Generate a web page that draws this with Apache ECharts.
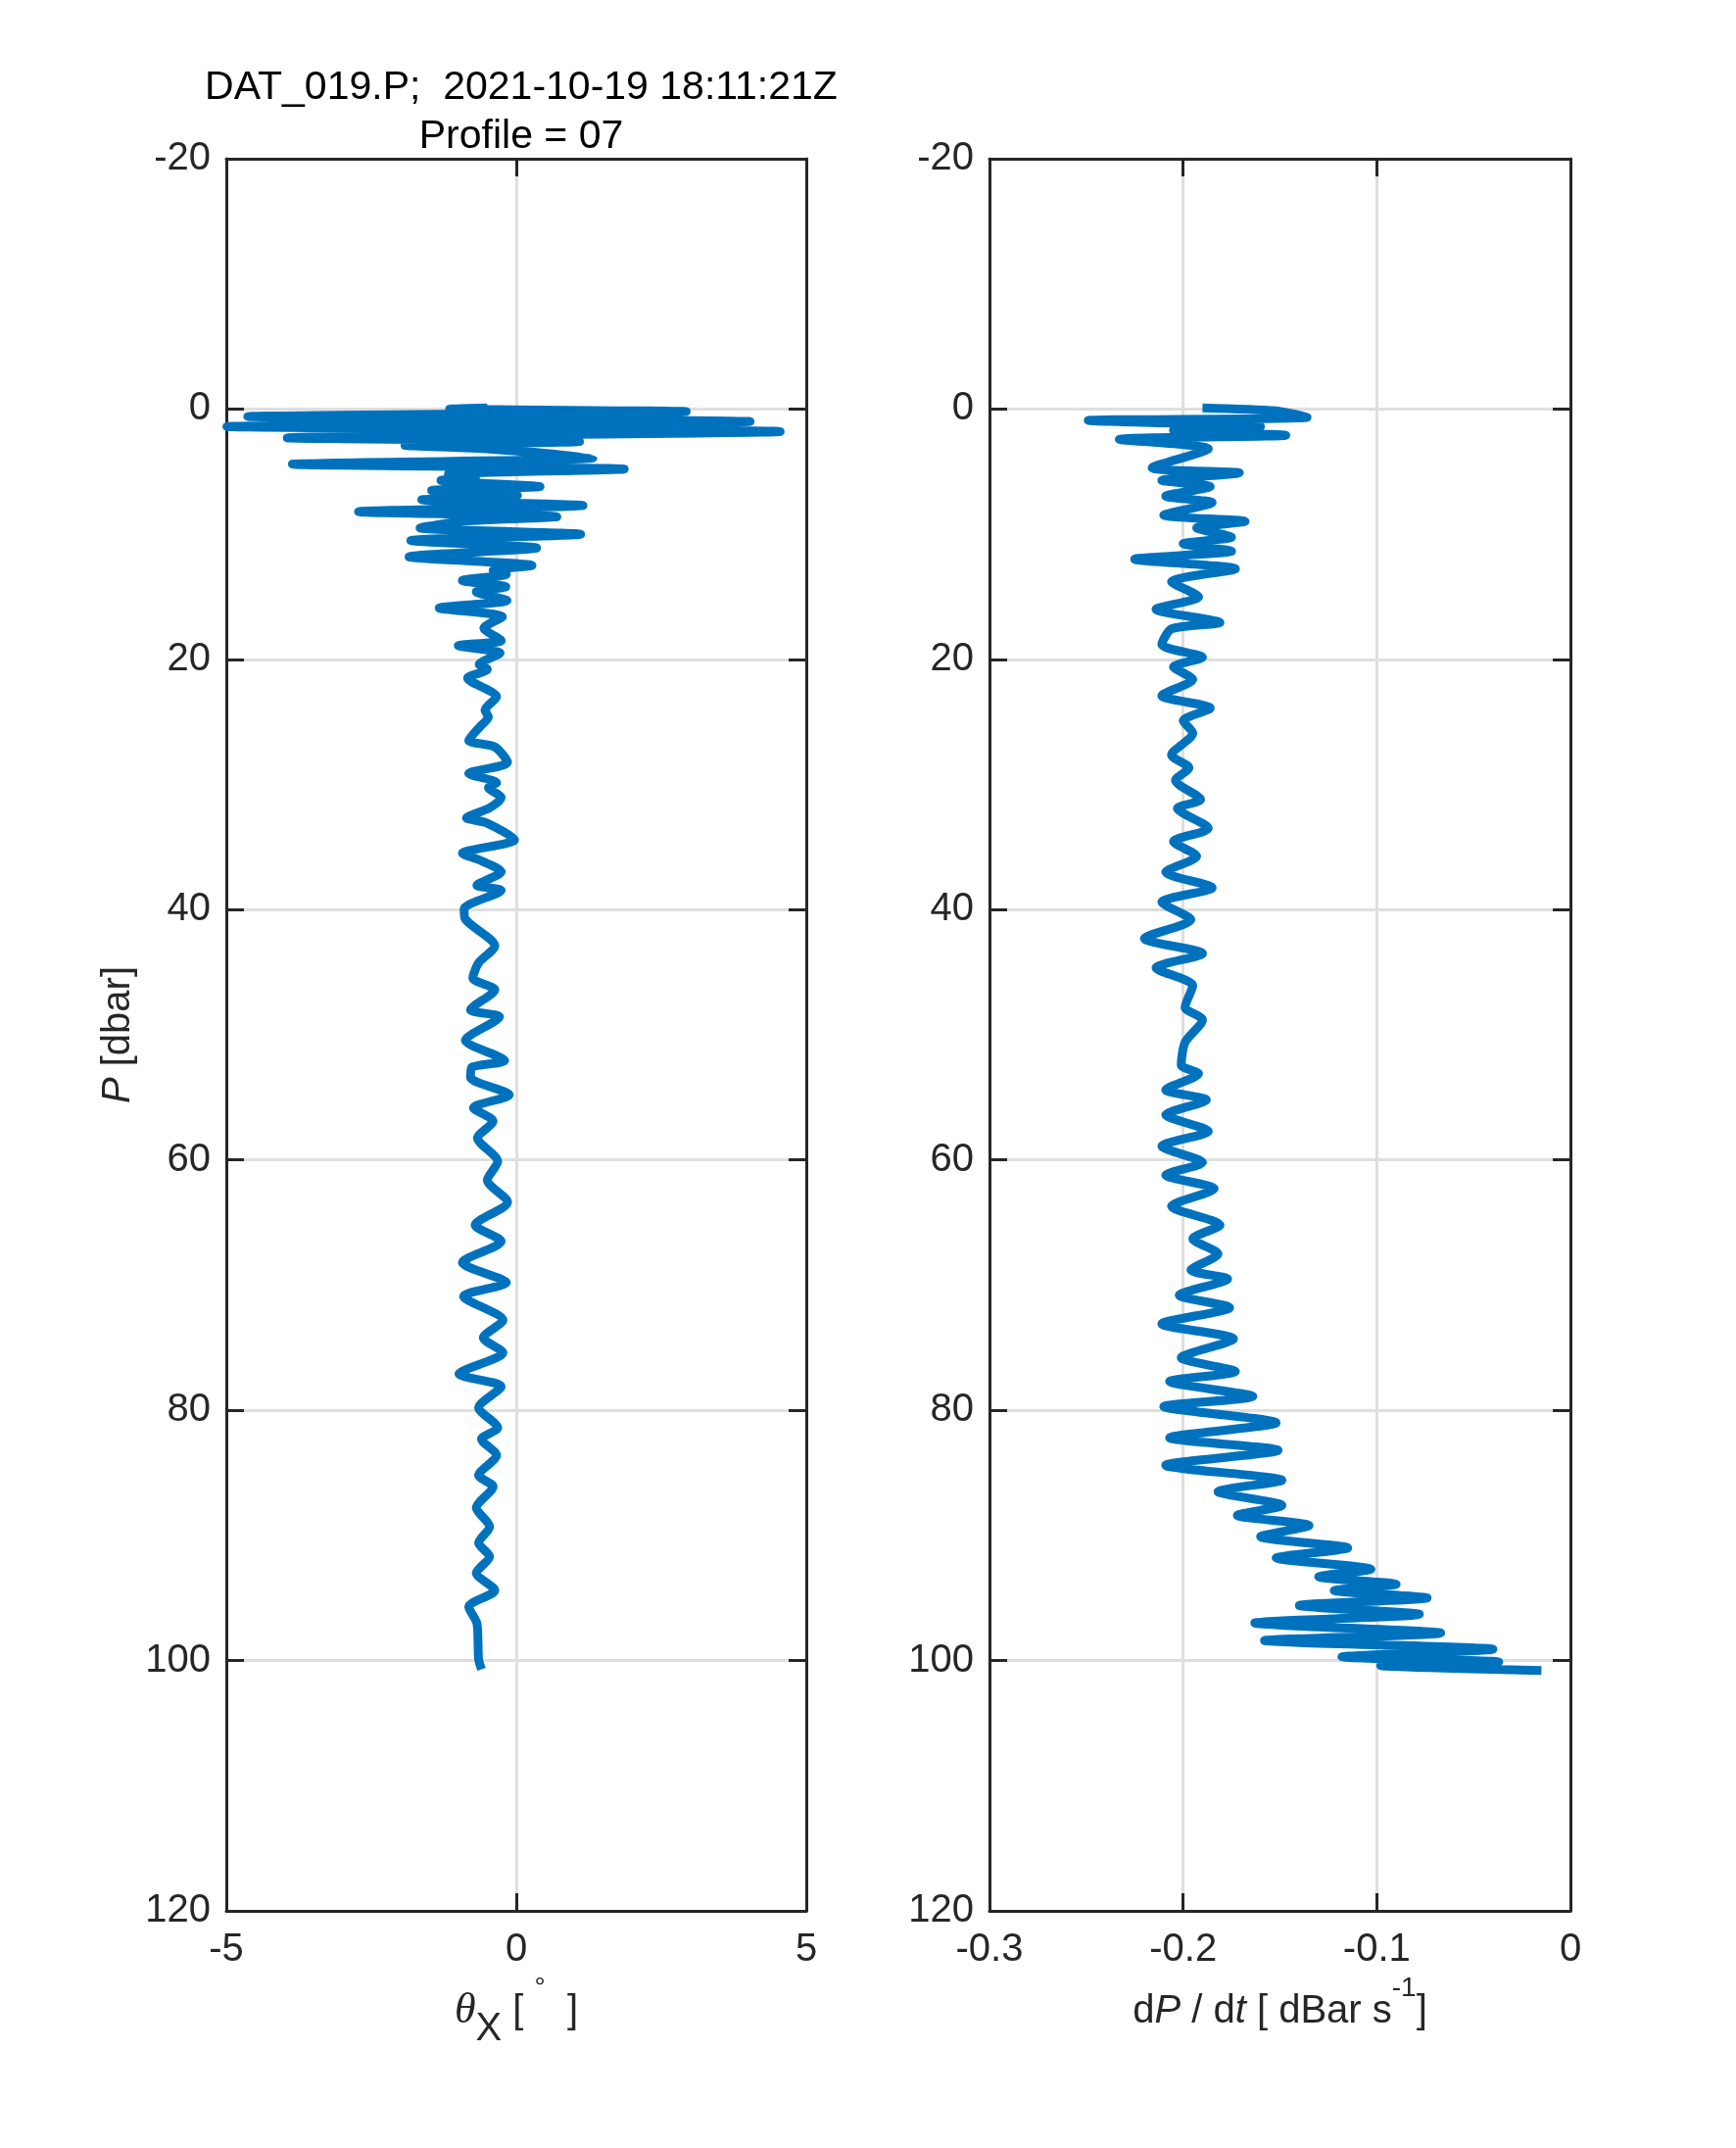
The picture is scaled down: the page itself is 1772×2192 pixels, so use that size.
<!DOCTYPE html>
<html>
<head>
<meta charset="utf-8">
<script src="https://cdn.jsdelivr.net/npm/echarts@6/dist/echarts.min.js"></script>
<style>
html,body{margin:0;padding:0;background:#fff;}
#c{width:1772px;height:2192px;}
</style>
</head>
<body>
<div id="c"></div>
<script>
// ---- data ----
const P_TICKS = [-20, 0, 20, 40, 60, 80, 100, 120];
const THETA_TICKS = [-5, 0, 5];
const DPDT_TICKS = [-0.3, -0.2, -0.1, 0];

// left panel: pitch angle theta_x [deg] vs pressure P [dbar]
const thetaP = [-0.1,0.0,0.05,0.2,0.6,1.0,1.4,1.8,2.3,2.6,2.9,3.2,3.9,4.4,4.8,5.2,5.4,5.7,6.2,6.5,6.9,7.25,7.7,8.2,8.6,8.95,9.5,10.0,10.5,11.1,11.8,12.5,12.9,13.2,13.7,14.2,14.6,15.3,15.9,16.6,17.5,18.5,18.9,19.5,20.4,20.8,21.5,22.98,24.06,24.6,25.4,26.48,27.0,28.23,29.12,29.85,30.25,31.06,31.87,32.67,33.08,34.42,35.5,36.04,36.98,38.06,38.46,39.94,40.75,42.9,44.25,45.46,46.4,48.0,48.56,50.44,52.06,52.6,53.4,54.8,55.83,56.9,58.25,60.13,61.6,63.37,65.2,66.5,68.2,69.8,70.9,72.8,74.2,75.4,77.1,78.1,79.8,81.4,82.3,83.6,85.2,86.1,87.8,89.3,90.6,91.7,93.0,94.4,95.7,97.0,98.5,99.9,100.7];
const thetaX = [-0.5,-1.15,-0.3,2.93,-4.63,4.03,-4.99,4.55,-3.95,1.09,-1.92,-0.46,1.32,-3.86,1.86,-1.17,-0.7,-1.30,0.41,-1.46,0.02,-1.63,1.15,-2.72,0.70,-0.88,-1.66,1.11,-1.82,0.35,-1.85,0.27,-0.40,-0.17,-0.93,-0.18,-0.69,-0.16,-1.33,-0.24,-0.56,-0.26,-1.0,-0.28,-0.64,-0.5,-0.84,-0.34,-0.54,-0.48,-0.63,-0.82,-0.37,-0.15,-0.82,-0.34,-0.48,-0.26,-0.46,-0.86,-0.51,-0.03,-0.93,-0.63,-0.26,-0.68,-0.26,-0.90,-0.88,-0.37,-0.65,-0.75,-0.37,-0.79,-0.29,-0.88,-0.20,-0.77,-0.79,-0.12,-0.74,-0.40,-0.67,-0.32,-0.50,-0.15,-0.71,-0.26,-0.93,-0.17,-0.91,-0.23,-0.57,-0.23,-0.99,-0.26,-0.65,-0.32,-0.60,-0.34,-0.65,-0.40,-0.69,-0.46,-0.65,-0.46,-0.69,-0.37,-0.82,-0.68,-0.66,-0.65,-0.60];

// right panel: fall rate dP/dt [dBar/s] vs pressure P [dbar]
const dpdtP = [-0.1,0.15,0.66,0.91,1.4,1.7,2.1,2.42,3.18,4.69,5.1,5.7,6.2,6.96,7.47,8.48,8.98,9.5,10.24,10.75,11.35,12.0,12.77,13.8,15.0,16.0,17.06,17.56,18.82,19.83,20.6,21.6,22.9,23.9,24.9,25.9,27.65,28.66,29.67,31.2,31.9,33.5,34.56,35.73,37.0,38.25,39.4,40.8,42.3,43.5,44.66,46.07,47.8,48.8,50.6,52.4,53.1,54.4,55.2,56.4,57.7,58.9,60.2,61.2,62.3,63.7,65.2,66.3,67.5,68.8,69.5,70.8,71.8,73.1,74.3,75.8,76.9,77.7,78.9,79.7,81.0,82.2,83.2,84.4,85.6,86.5,87.6,88.4,89.2,90.1,91.0,91.8,92.7,93.3,93.9,94.4,95.0,95.6,96.3,97.0,97.8,98.4,99.1,99.7,100.1,100.4,100.8];
const dpdtV = [-0.19,-0.152,-0.136,-0.249,-0.16,-0.205,-0.147,-0.233,-0.187,-0.216,-0.171,-0.211,-0.186,-0.209,-0.185,-0.210,-0.168,-0.193,-0.175,-0.200,-0.175,-0.225,-0.173,-0.206,-0.192,-0.214,-0.181,-0.206,-0.211,-0.190,-0.205,-0.195,-0.211,-0.186,-0.200,-0.195,-0.206,-0.197,-0.204,-0.191,-0.203,-0.187,-0.205,-0.193,-0.209,-0.185,-0.211,-0.196,-0.220,-0.190,-0.214,-0.195,-0.199,-0.190,-0.199,-0.201,-0.192,-0.209,-0.188,-0.209,-0.187,-0.211,-0.190,-0.209,-0.184,-0.206,-0.181,-0.195,-0.182,-0.196,-0.177,-0.202,-0.176,-0.211,-0.174,-0.201,-0.173,-0.207,-0.164,-0.210,-0.152,-0.207,-0.151,-0.209,-0.149,-0.182,-0.149,-0.172,-0.135,-0.160,-0.115,-0.152,-0.103,-0.130,-0.090,-0.122,-0.074,-0.140,-0.078,-0.163,-0.067,-0.158,-0.040,-0.118,-0.037,-0.098,-0.015];

// ---- chart ----
const AX = '#262626';
const GRIDC = '#dfdfdf';
const FONT = 'Liberation Sans';
const LINE = '#0072BD';

function pairs(xs, ps){ return xs.map((x,i)=>[x, ps[i]]); }

function xAxisPair(gi, ticks, name, rich, fmt){
  const step = ticks[1]-ticks[0];
  const base = {
    gridIndex: gi, type: 'value',
    min: ticks[0], max: ticks[ticks.length-1], interval: step,
    axisLine: {show: true, onZero: false, lineStyle: {color: AX, width: 3}},
    axisTick: {show: true, inside: true, length: 18, lineStyle: {color: AX, width: 3}},
  };
  return [
    Object.assign({}, base, {
      position: 'bottom',
      axisLabel: {show: true, fontSize: 40, fontFamily: FONT, color: AX, margin: 20,
        showMinLabel: true, showMaxLabel: true, formatter: fmt},
      splitLine: {show: true, lineStyle: {color: GRIDC, width: 3}},
      name: name, nameLocation: 'middle', nameGap: 64,
      nameTextStyle: {rich: rich}
    }),
    Object.assign({}, base, {
      position: 'top',
      axisLabel: {show: false},
      splitLine: {show: false}
    })
  ];
}

function yAxisPair(gi, withName){
  const base = {
    gridIndex: gi, type: 'value', inverse: true,
    min: P_TICKS[0], max: P_TICKS[P_TICKS.length-1], interval: P_TICKS[1]-P_TICKS[0],
    axisLine: {show: true, onZero: false, lineStyle: {color: AX, width: 3}},
    axisTick: {show: true, inside: true, length: 18, lineStyle: {color: AX, width: 3}},
  };
  const left = Object.assign({}, base, {
    position: 'left',
    axisLabel: {show: true, fontSize: 40, fontFamily: FONT, color: AX, margin: 16,
      showMinLabel: true, showMaxLabel: true, padding: [6, 0, 0, 0]},
    splitLine: {show: true, lineStyle: {color: GRIDC, width: 3}}
  });
  if (withName){
    left.name = '{it|P}{n| [dbar]}';
    left.nameLocation = 'middle';
    left.nameGap = 87;
    left.nameTextStyle = {rich: {
      it: {fontFamily: FONT, fontStyle: 'italic', fontSize: 40, color: AX, lineHeight: 46},
      n: {fontFamily: FONT, fontSize: 40, color: AX, lineHeight: 46}
    }};
  }
  const right = Object.assign({}, base, {
    position: 'right',
    axisLabel: {show: false},
    splitLine: {show: false}
  });
  return [left, right];
}

const richLeft = {
  th: {fontFamily: 'Liberation Serif', fontStyle: 'italic', fontSize: 44, lineHeight: 76, color: AX},
  sub: {fontFamily: FONT, fontSize: 40, verticalAlign: 'bottom', color: AX},
  n: {fontFamily: FONT, fontSize: 40, lineHeight: 76, color: AX},
  sup: {fontFamily: FONT, fontSize: 28, verticalAlign: 'top', color: AX}
};
const richRight = {
  n: {fontFamily: FONT, fontSize: 40, lineHeight: 76, color: AX},
  it: {fontFamily: FONT, fontStyle: 'italic', fontSize: 40, lineHeight: 76, color: AX},
  sup: {fontFamily: FONT, fontSize: 28, verticalAlign: 'top', color: AX}
};

const xa = xAxisPair(0, THETA_TICKS, '{th|θ}{sub|X}{n| [ }{sup|°}{n|  ]}', richLeft)
  .concat(xAxisPair(1, DPDT_TICKS, '{n|d}{it|P}{n| / d}{it|t}{n| [ dBar s}{sup|-1}{n|]}', richRight,
    v => String(+v.toFixed(1))));
const ya = yAxisPair(0, true).concat(yAxisPair(1, false));

const chart = echarts.init(document.getElementById('c'), null, {renderer: 'canvas'});
chart.setOption({
  backgroundColor: '#ffffff',
  animation: false,
  title: {
    text: 'DAT_019.P;  2021-10-19 18:11:21Z\nProfile = 07',
    left: 527, top: 60, textAlign: 'center',
    textStyle: {fontFamily: FONT, fontSize: 41, fontWeight: 'normal', color: '#000', lineHeight: 50}
  },
  grid: [
    {left: 231, top: 162, width: 592, height: 1788, containLabel: false},
    {left: 1010, top: 162, width: 593, height: 1788, containLabel: false}
  ],
  xAxis: xa,
  yAxis: ya,
  series: [
    {type: 'line', name: 'theta_x', xAxisIndex: 0, yAxisIndex: 0,
     data: pairs(thetaX, thetaP), showSymbol: false, symbol: 'none', smooth: 0.25,
     lineStyle: {color: LINE, width: 9}, itemStyle: {color: LINE}},
    {type: 'line', name: 'dPdt', xAxisIndex: 2, yAxisIndex: 2,
     data: pairs(dpdtV, dpdtP), showSymbol: false, symbol: 'none', smooth: 0.25,
     lineStyle: {color: LINE, width: 9}, itemStyle: {color: LINE}}
  ]
});
</script>
</body>
</html>
